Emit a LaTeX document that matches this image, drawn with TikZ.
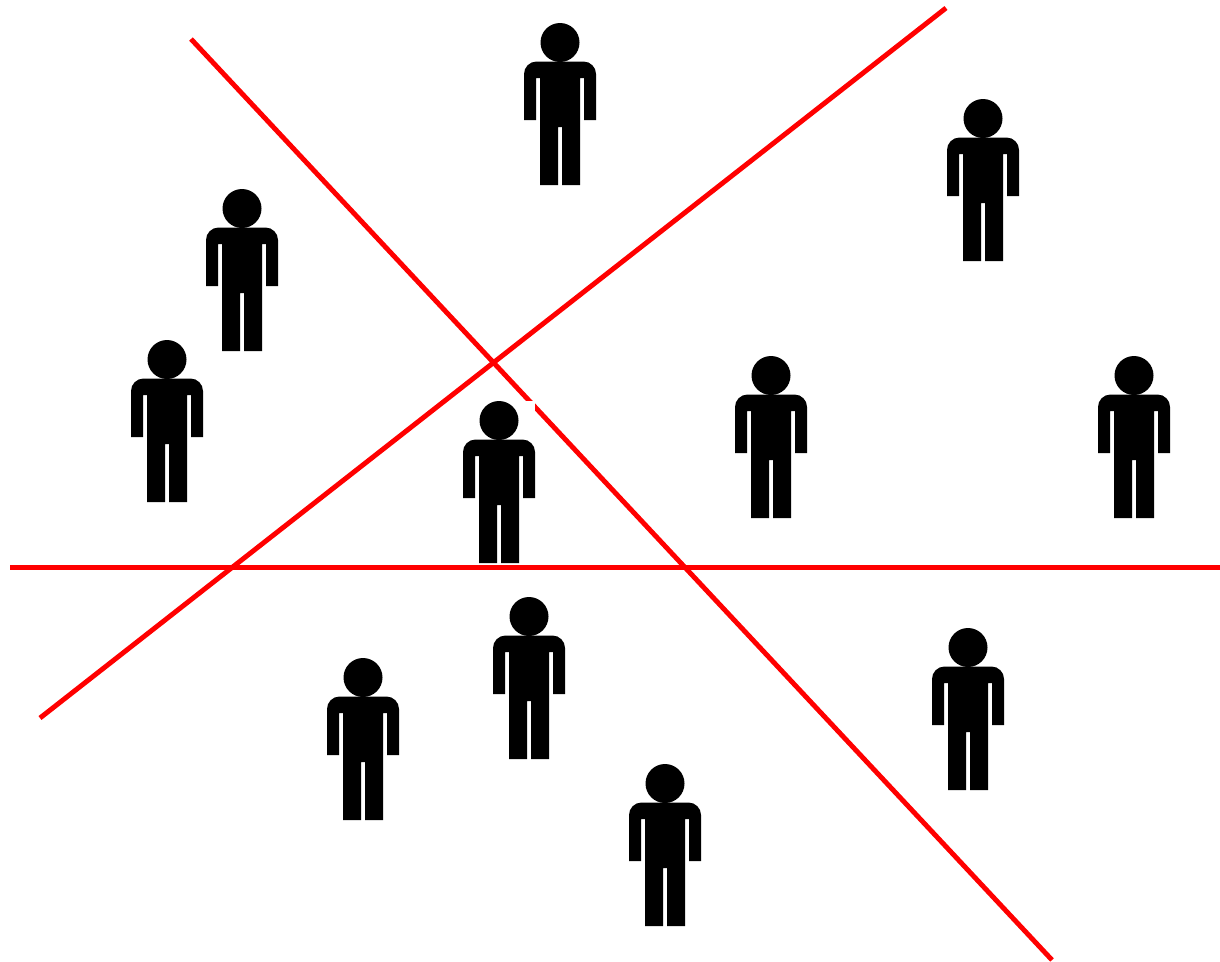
\documentclass[tikz,border=0pt]{standalone}
\tikzset{
  divider line/.style={line width=2.8pt,red},
  person backing/.style={fill=white,draw=none},
  person shape/.style={fill=black,draw=none},
}
\newcommand{\drawPerson}[2]{
\begin{scope}[shift={(#1,#2)}]
\fill[person backing] (-36,0) rectangle (36,162);
\fill[person shape] (0,19.5) circle (19.5);
\fill[person shape] (-36,97) -- (-36,60) [rounded corners=0.25cm] -- (-36,38.5) -- (36,38.5) [sharp corners] -- (36,97) -- (24,97) -- (24,55) -- (20,55) -- (20,162) -- (2,162) -- (2,104) -- (-2,104) -- (-2,162) -- (-20,162) -- (-20,55) -- (-24,55) -- (-24,97) -- cycle;
\end{scope}
}

\begin{document}
\begin{tikzpicture}[x=0.02cm,y=-0.02cm]
\useasboundingbox (0,0) rectangle (1220,961);
% dividing lines
\coordinate (falling start) at (191,39);
\coordinate (falling end) at (1052,960);
\coordinate (rising start) at (946,8);
\coordinate (rising end) at (40,718);
\coordinate (level start) at (10,567.5);
\coordinate (level end) at (1220,567.5);
\draw[divider line] (falling start) -- (falling end);
\draw[divider line] (rising start) -- (rising end);
\draw[divider line] (level start) -- (level end);
% people
\foreach \px/\py in {560/23,983/99,242/189,167/340,771/356,1134/356,499/401,529/597,363/658,968/628,665/764}
  \drawPerson{\px}{\py};
\end{tikzpicture}
\end{document}
